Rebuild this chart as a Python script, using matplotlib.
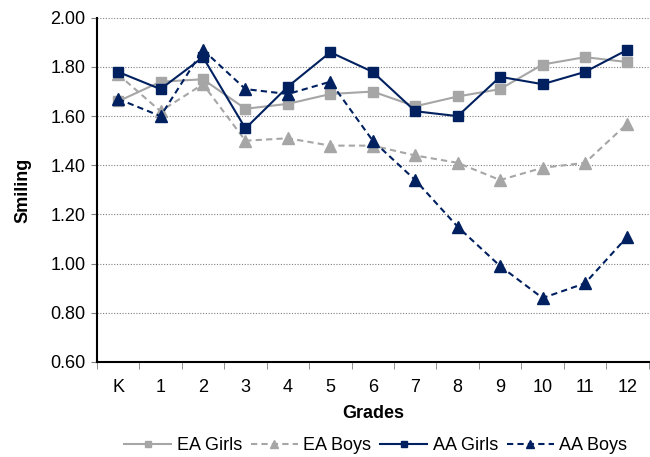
import matplotlib
matplotlib.use("Agg")
import matplotlib.pyplot as plt
import numpy as np

grades = ["K", "1", "2", "3", "4", "5", "6", "7", "8", "9", "10", "11", "12"]
ea_girls = [1.66, 1.74, 1.75, 1.63, 1.65, 1.69, 1.70, 1.64, 1.68, 1.71, 1.81, 1.84, 1.82]
ea_boys = [1.77, 1.62, 1.73, 1.50, 1.51, 1.48, 1.48, 1.44, 1.41, 1.34, 1.39, 1.41, 1.57]
aa_girls = [1.78, 1.71, 1.84, 1.55, 1.72, 1.86, 1.78, 1.62, 1.60, 1.76, 1.73, 1.78, 1.87]
aa_boys = [1.67, 1.60, 1.87, 1.71, 1.69, 1.74, 1.50, 1.34, 1.15, 0.99, 0.86, 0.92, 1.11]

plt.rcParams['font.family'] = ['Liberation Sans', 'DejaVu Sans']

fig = plt.figure(figsize=(6.5, 4.57), dpi=100)
ax = fig.add_axes([0.149, 0.208, 0.849, 0.753])

x = np.arange(len(grades))
gray = "#A6A6A6"
navy = "#002060"
ax.plot(x, ea_girls, color=gray, lw=1.5, ls='-', marker='s', ms=7, label="EA Girls")
ax.plot(x, ea_boys, color=gray, lw=1.5, ls=(0, (3, 2)), marker='^', ms=8, label="EA Boys")
ax.plot(x, aa_girls, color=navy, lw=1.5, ls='-', marker='s', ms=7, label="AA Girls")
ax.plot(x, aa_boys, color=navy, lw=1.5, ls=(0, (3, 2)), marker='^', ms=8, label="AA Boys")

ax.set_xlim(-0.5, len(grades) - 0.5)
ax.set_ylim(0.6, 2.0)
ax.set_yticks(np.arange(0.6, 2.01, 0.2))
ax.set_yticklabels([f"{v:.2f}" for v in np.arange(0.6, 2.01, 0.2)], fontsize=13)
ax.set_xticks(x)
ax.set_xticklabels(grades, fontsize=13)
ax.tick_params(axis='x', length=0, pad=12)
ax.set_xticks(np.arange(-0.5, len(grades), 1), minor=True)
ax.tick_params(axis='x', which='minor', length=5, color='#808080')
ax.tick_params(axis='y', length=4, color='#808080', pad=4)

ax.yaxis.grid(True, ls=(0, (1, 1.5)), color='#808080', lw=0.8)
ax.set_axisbelow(True)
for s in ['top', 'right']:
    ax.spines[s].set_visible(False)
ax.spines['left'].set_linewidth(1.5)
ax.spines['bottom'].set_linewidth(1.5)

ax.set_xlabel("Grades", fontsize=13, fontweight='bold', labelpad=7)
ax.set_ylabel("Smiling", fontsize=13, fontweight='bold', labelpad=14)

fig.legend(loc='lower center', bbox_to_anchor=(0.578, -0.03), ncol=4, frameon=False,
           fontsize=13, handlelength=2.6, columnspacing=0.5, handletextpad=0.3,
           markerscale=0.7)

fig.savefig("out.png", dpi=100)
